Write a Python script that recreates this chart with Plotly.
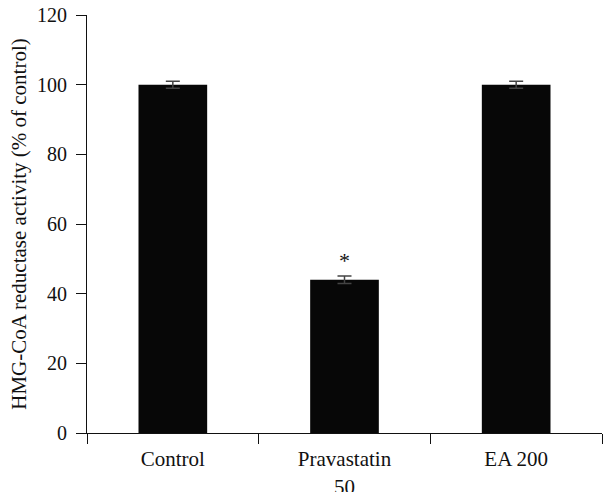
import plotly.graph_objects as go

categories = ["Control", "Pravastatin<br>50", "EA 200"]
values = [100, 44, 100]
errors = [1, 1.1, 1]
significance = ["", "*", ""]

fig = go.Figure()
fig.add_trace(go.Bar(
    x=categories, y=values,
    marker=dict(color="#070707", line=dict(width=0)),
    width=0.4,
    error_y=dict(type="data", array=errors, visible=True, color="#444444", thickness=1.5, width=7),
))

font = dict(family="Liberation Serif", size=20, color="#111")
xfont = dict(family="Liberation Serif", size=21, color="#111")

for c, v, e, s in zip(categories, values, errors, significance):
    if s:
        fig.add_annotation(x=c, y=v + e, text=s, showarrow=False, yanchor="bottom", yshift=1,
                           font=dict(family="Liberation Serif", size=22, color="#111"))

fig.update_layout(
    width=607, height=492,
    margin=dict(l=87, r=5, t=15, b=59),
    paper_bgcolor="white", plot_bgcolor="white",
    showlegend=False,
    font=font,
    xaxis=dict(type="category", tickson="boundaries", ticks="outside", ticklen=10, tickcolor="#111",
               showline=True, linecolor="#111", linewidth=1, showgrid=False, zeroline=False,
               tickfont=xfont, range=[-0.5, 2.5], automargin=False, ticklabelstandoff=7),
    yaxis=dict(range=[0, 120], dtick=20, ticks="outside", ticklen=10, tickcolor="#111",
               showline=True, linecolor="#111", linewidth=1, showgrid=False, zeroline=False,
               tickfont=font, automargin=False, ticklabeloverflow="allow", ticklabelstandoff=5,
               title=dict(text="HMG-CoA reductase activity (% of control)",
                          font=dict(family="Liberation Serif", size=21, color="#111"), standoff=4)),
)

fig.write_html("out.html", config={"displayModeBar": False},
               post_script="document.body.style.margin='0';document.body.style.overflow='hidden';")
